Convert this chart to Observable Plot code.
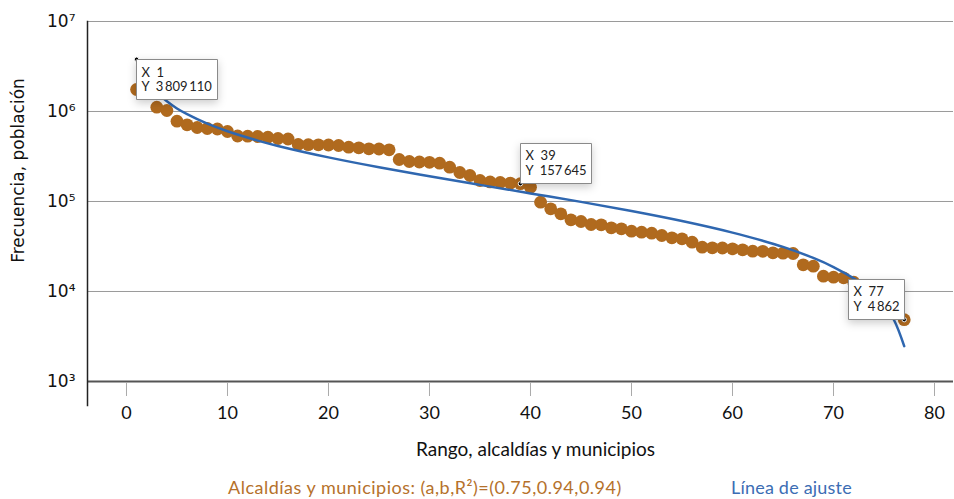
<!DOCTYPE html>
<html>
<head>
<meta charset="utf-8">
<script src="https://cdn.jsdelivr.net/npm/d3@7"></script>
<script src="https://cdn.jsdelivr.net/npm/@observablehq/plot@0.6"></script>
<style>
  body { margin: 0; background: #fff; }
  #legend { position: relative; width: 954px; height: 34px; font-family: Lato, sans-serif; font-size: 18px; }
  #legend span { position: absolute; top: 11px; white-space: nowrap; }
</style>
</head>
<body>
<div id="chart"></div>
<div id="legend"></div>
<script>
// Rank of each alcaldía / municipio
const rango = [1,2,3,4,5,6,7,8,9,10,11,12,13,14,15,16,17,18,19,20,21,22,23,24,25,26,27,28,29,30,
  31,32,33,34,35,36,37,38,39,40,41,42,43,44,45,46,47,48,49,50,51,52,53,54,55,56,57,58,59,60,
  61,62,63,64,65,66,67,68,69,70,71,72,73,74,75,76,77];
// Population
const poblacion = [1755000,1650000,1116000,1026000,780000,711500,664000,647500,639000,599500,
  534300,531600,527500,518100,501200,494800,429900,427700,426600,424400,
  419000,401200,395100,385100,383100,375400,292900,278300,274800,272700,
  266500,240500,210100,194500,171200,165000,162500,160000,157645,144200,
  98220,82970,73020,62610,59950,55520,55100,51030,49740,46770,
  45590,44440,41900,39520,38520,35300,31060,30590,30430,29810,
  29060,28040,27970,26920,26650,26440,19800,19100,14790,14420,
  14200,12690,11500,10000,8500,6800,4862];
// Fitted line
const ajusteRango = [1,2,3,4,5,6,8,10,13,15,20,25,30,35,40,45,50,55,60,63,65,68,70,72,73,74,75,76,77];
const ajusteValor = [3809110,2240000,1630000,1300000,1080000,933000,732000,603000,475000,414000,
  309000,240000,191000,153000,123000,99000,78300,60600,45100,36600,
  31300,23600,18700,14000,11700,9370,7080,4790,2470];
// Tooltip annotations
const tipRango = [1, 39, 77];
const tipValor = [3809110, 157645, 4862];
const tipAnchor = ["top-left", "bottom-left", "bottom-right"];
// Axis ticks
const xTicks = [0,10,20,30,40,50,60,70,80];
const yTicks = [1e3,1e4,1e5,1e6,1e7];
const yGrid = [1e4,1e5,1e6,1e7];
const sup = {3:"³",4:"⁴",5:"⁵",6:"⁶",7:"⁷"};

const brown = "#B06A1E";
const blue = "#2F67B0";

const puntos = rango.map((r, i) => ({rango: r, poblacion: poblacion[i]}));
const ajuste = ajusteRango.map((r, i) => ({rango: r, valor: ajusteValor[i]}));
const loc = d3.formatLocale({decimal: ".", thousands: "\u2009", grouping: [3], currency: ["", ""]});
const fmt = loc.format(",d");
const tips = tipRango.map((r, i) => ({rango: r, valor: tipValor[i], anchor: tipAnchor[i],
  label: `X\u00a0\u00a0${r}\nY\u00a0\u00a0${fmt(tipValor[i])}`}));

const chart = Plot.plot({
  width: 954,
  height: 465,
  marginLeft: 87,
  marginRight: 1,
  marginTop: 21,
  marginBottom: 60,
  style: {fontFamily: "Lato, sans-serif", fontSize: "18px", color: "#222", background: "#fff"},
  x: {domain: [-3.86, 81.88], label: null},
  y: {type: "log", domain: [541, 1e7], label: null},
  marks: [
    Plot.ruleY(yGrid, {stroke: "#9a9a9a", strokeWidth: 1}),
    Plot.ruleY([1e3], {stroke: "#555", strokeWidth: 2}),
    Plot.frame({anchor: "left", stroke: "#222", strokeWidth: 1.5}),
    Plot.axisY(yTicks, {tickSize: 0, tickPadding: 12, fontFamily: "DejaVu Sans", fontSize: 17,
      fill: "#111", tickFormat: d => "10" + sup[Math.round(Math.log10(d))], label: null}),
    Plot.axisX(xTicks, {anchor: "bottom", tickSize: 13, dy: -22, stroke: "#aaa", fill: "none", label: null}),
    Plot.axisX(xTicks, {anchor: "bottom", tickSize: 0, tickPadding: 1, fontSize: 18, fill: "#111", label: null}),
    Plot.text(["Frecuencia, población"], {frameAnchor: "left", textAnchor: "middle", rotate: -90, dx: -69, dy: -43,
      fontFamily: "DejaVu Sans", fontSize: 17, fill: "#111"}),
    Plot.text(["Rango, alcaldías y municipios"], {frameAnchor: "bottom", dx: 15, dy: 50, fontSize: 19, fill: "#111"}),
    Plot.dot(puntos, {x: "rango", y: "poblacion", r: 6.4, fill: brown}),
    Plot.line(ajuste, {x: "rango", y: "valor", stroke: blue, strokeWidth: 2.5, curve: "catmull-rom"}),
    Plot.dot(tips, {x: "rango", y: "valor", r: 2.2, fill: "#000", stroke: "#fff", strokeWidth: 1}),
    ...tips.map(t => Plot.tip([t], {x: "rango", y: "valor", title: "label", anchor: t.anchor,
      pointerSize: 0, textPadding: 5, lineHeight: 1.1, fontSize: 13, fontFamily: "Lato, sans-serif",
      fill: "#fff", stroke: "#8a8a8a"}))
  ]
});
document.getElementById("chart").appendChild(chart);

const legend = document.getElementById("legend");
const items = [
  {text: "Alcaldías y municipios: (a,b,R²)=(0.75,0.94,0.94)", color: "#B5712B", left: 228, spacing: "0.5px"},
  {text: "Línea de ajuste", color: "#3C6DB4", left: 731, spacing: "0.2px"}
];
for (const it of items) {
  const s = document.createElement("span");
  s.textContent = it.text;
  s.style.color = it.color;
  s.style.left = it.left + "px";
  s.style.letterSpacing = it.spacing;
  legend.appendChild(s);
}
</script>
</body>
</html>
